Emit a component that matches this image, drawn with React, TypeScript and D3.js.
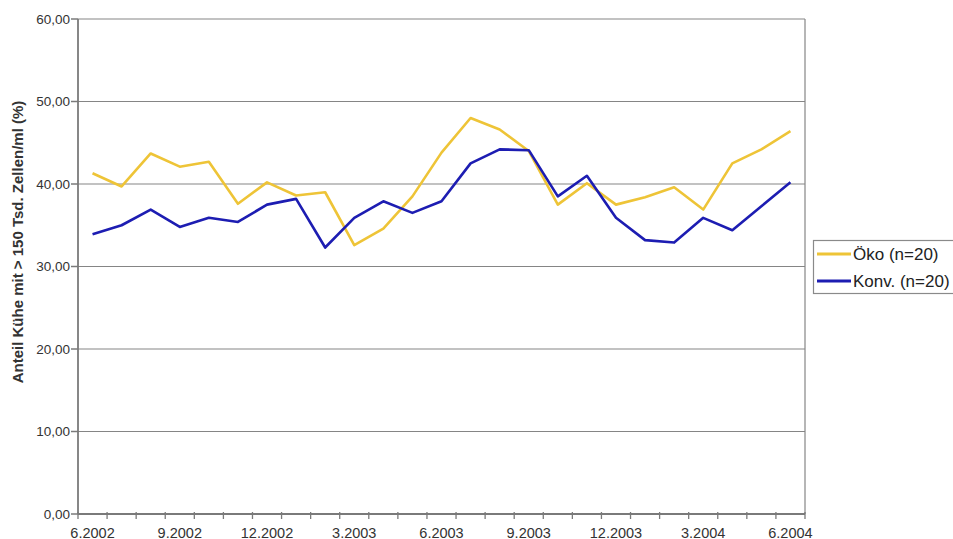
import React from "react";
import * as d3 from "d3";

// Monthly categories, June 2002 – June 2004
const months = [
  "6.2002", "7.2002", "8.2002", "9.2002", "10.2002", "11.2002", "12.2002",
  "1.2003", "2.2003", "3.2003", "4.2003", "5.2003", "6.2003", "7.2003",
  "8.2003", "9.2003", "10.2003", "11.2003", "12.2003", "1.2004", "2.2004",
  "3.2004", "4.2004", "5.2004", "6.2004",
];
const labelledMonths = [
  "6.2002", "9.2002", "12.2002", "3.2003", "6.2003", "9.2003", "12.2003", "3.2004", "6.2004",
];

// Share of cows above 150k cells/ml (%)
const oko = [
  41.3, 39.7, 43.7, 42.1, 42.7, 37.6, 40.2, 38.6, 39.0, 32.6, 34.6, 38.5, 43.8,
  48.0, 46.6, 44.0, 37.5, 40.1, 37.5, 38.4, 39.6, 36.9, 42.5, 44.2, 46.4,
];
const konv = [
  33.9, 35.0, 36.9, 34.8, 35.9, 35.4, 37.5, 38.2, 32.3, 35.9, 37.9, 36.5, 37.9,
  42.5, 44.2, 44.1, 38.5, 41.0, 35.9, 33.2, 32.9, 35.9, 34.4, 37.3, 40.2,
];
const yTicks = [0, 10, 20, 30, 40, 50, 60];

const seriesNames = ["Öko (n=20)", "Konv. (n=20)"];
const seriesColors = ["#eec437", "#1d1db2"];

const W = 953;
const H = 539;
const plot = { left: 78, right: 805, top: 19, bottom: 514 };

export default function App() {
  const x = d3
    .scaleBand<string>()
    .domain(months)
    .range([plot.left, plot.right])
    .paddingInner(0)
    .paddingOuter(0);
  const y = d3.scaleLinear().domain([0, 60]).range([plot.bottom, plot.top]);

  const cx = (m: string) => (x(m) as number) + x.bandwidth() / 2;
  const line = d3
    .line<number>()
    .x((_, i) => cx(months[i]))
    .y((v) => y(v));

  const fmt = (v: number) => v.toFixed(2).replace(".", ",");
  const font = "'Liberation Sans', Arial, sans-serif";
  const gray = "#858585";

  // tick boundaries between categories (plus both ends)
  const boundaries = months.map((m) => x(m) as number).concat([plot.right]);

  return (
    <svg
      width={W}
      height={H}
      style={{ position: "absolute", left: 0, top: 0, background: "#fff" }}
      fontFamily={font}
    >
      <rect x={0} y={0} width={W} height={H} fill="#fff" />

      {/* horizontal grid lines */}
      {yTicks.map((t) => (
        <line
          key={"g" + t}
          x1={plot.left}
          x2={plot.right}
          y1={y(t)}
          y2={y(t)}
          stroke={gray}
          strokeWidth={1.2}
        />
      ))}
      {/* right border of plot area */}
      <line x1={plot.right} x2={plot.right} y1={plot.top} y2={plot.bottom} stroke={gray} strokeWidth={1.2} />

      {/* y axis */}
      <line x1={plot.left} x2={plot.left} y1={plot.top} y2={plot.bottom} stroke="#7a7a7a" strokeWidth={1.8} />
      {yTicks.map((t) => (
        <g key={"yt" + t}>
          <line x1={plot.left - 7} x2={plot.left} y1={y(t)} y2={y(t)} stroke="#7a7a7a" strokeWidth={1.5} />
          <text
            x={plot.left - 8}
            y={y(t)}
            dy="0.35em"
            textAnchor="end"
            fontSize={13.5}
            fill="#333"
          >
            {fmt(t)}
          </text>
        </g>
      ))}

      {/* x axis */}
      <line x1={plot.left} x2={plot.right} y1={plot.bottom} y2={plot.bottom} stroke="#7a7a7a" strokeWidth={1.8} />
      {boundaries.map((b, i) => (
        <line
          key={"xt" + i}
          x1={b}
          x2={b}
          y1={plot.bottom - 2}
          y2={plot.bottom + 5}
          stroke="#7a7a7a"
          strokeWidth={1.3}
        />
      ))}
      {labelledMonths.map((m) => (
        <text key={"xl" + m} x={cx(m)} y={537.5} textAnchor="middle" fontSize={14.5} fill="#333">
          {m}
        </text>
      ))}

      {/* axis title */}
      <text
        transform={`translate(23, 242) rotate(-90)`}
        textAnchor="middle"
        fontSize={15}
        fontWeight="bold"
        fill="#333"
      >
        Anteil Kühe mit &gt; 150 Tsd. Zellen/ml (%)
      </text>

      {/* series */}
      <path d={line(oko) ?? ""} fill="none" stroke={seriesColors[0]} strokeWidth={2.6} strokeLinejoin="round" />
      <path d={line(konv) ?? ""} fill="none" stroke={seriesColors[1]} strokeWidth={2.6} strokeLinejoin="round" />

      {/* legend */}
      <rect x={813.5} y={240.5} width={150} height={53} fill="#fff" stroke="#8a8a8a" strokeWidth={1.2} />
      {seriesNames.map((name, i) => {
        const ly = 254 + i * 27;
        return (
          <g key={name}>
            <line x1={817} x2={851} y1={ly} y2={ly} stroke={seriesColors[i]} strokeWidth={3} />
            <text x={853} y={ly} dy="0.36em" fontSize={17} fill="#222">
              {name}
            </text>
          </g>
        );
      })}
    </svg>
  );
}
